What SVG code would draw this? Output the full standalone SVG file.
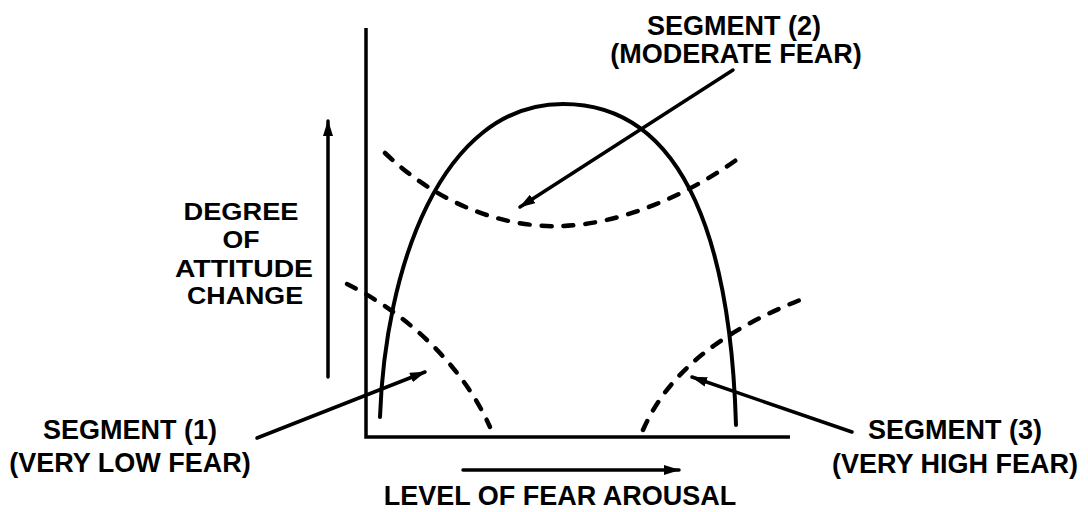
<svg xmlns="http://www.w3.org/2000/svg" width="1088" height="512" viewBox="0 0 1088 512">
<defs>
<style>
.t{font-family:"Liberation Sans",Arial,sans-serif;font-weight:bold;font-size:27px;fill:#000;text-anchor:middle}
.ty{font-family:"Liberation Sans",Arial,sans-serif;font-weight:bold;font-size:24px;fill:#000;text-anchor:middle}
.ax{stroke:#000;stroke-width:3.5;fill:none}
.cv{stroke:#000;stroke-width:4;fill:none;stroke-linecap:round}
.ds{stroke:#000;stroke-width:4.5;fill:none;stroke-dasharray:10 12;stroke-linecap:round}
.ar{stroke:#000;stroke-width:3.5;fill:none;stroke-linecap:round;marker-end:url(#ah)}
</style>
<marker id="ah" viewBox="0 0 16 10" refX="15" refY="5" markerWidth="16" markerHeight="10" markerUnits="userSpaceOnUse" orient="auto">
<path d="M0,0 L16,5 L0,10 Z" fill="#000"/>
</marker>
</defs>
<g id="axes">
<path class="ax" d="M366,28 L366,437 L790,437"/>
</g>
<g id="curve-main">
<path class="cv" d="M380,417 C385,270 440,104 563,104 C690,104 731,255 736,425"/>
</g>
<g id="segment-curves">
<path class="ds" d="M385,153 C450,215 520,228 563,226 C620,224 690,195 743,155"/>
<path class="ds" d="M347,284 C400,310 460,360 490,427"/>
<path class="ds" d="M643,430 C665,380 710,335 805,298"/>
</g>
<g id="connectors">
<path class="ar" d="M328,377 L328,121"/>
<path class="ar" d="M463,470 L679,470"/>
<path class="ar" d="M733,70 L520,207"/>
<path class="ar" d="M257,438 L425,372"/>
<path class="ar" d="M852,432 L692,377"/>
</g>
<g id="label-y">
<text class="ty" x="241" y="220" textLength="115" lengthAdjust="spacingAndGlyphs">DEGREE</text>
<text class="ty" x="241" y="248" textLength="37" lengthAdjust="spacingAndGlyphs">OF</text>
<text class="ty" x="244" y="277" textLength="138" lengthAdjust="spacingAndGlyphs">ATTITUDE</text>
<text class="ty" x="245" y="304" textLength="116" lengthAdjust="spacingAndGlyphs">CHANGE</text>
</g>
<g id="label-x">
<text class="t" x="560" y="505">LEVEL OF FEAR AROUSAL</text>
</g>
<g id="segment-1">
<text class="t" x="130" y="439">SEGMENT (1)</text>
<text class="t" x="130" y="472">(VERY LOW FEAR)</text>
</g>
<g id="segment-2">
<text class="t" x="734" y="35">SEGMENT (2)</text>
<text class="t" x="736" y="63">(MODERATE FEAR)</text>
</g>
<g id="segment-3">
<text class="t" x="955" y="439">SEGMENT (3)</text>
<text class="t" x="955" y="473">(VERY HIGH FEAR)</text>
</g>
</svg>
